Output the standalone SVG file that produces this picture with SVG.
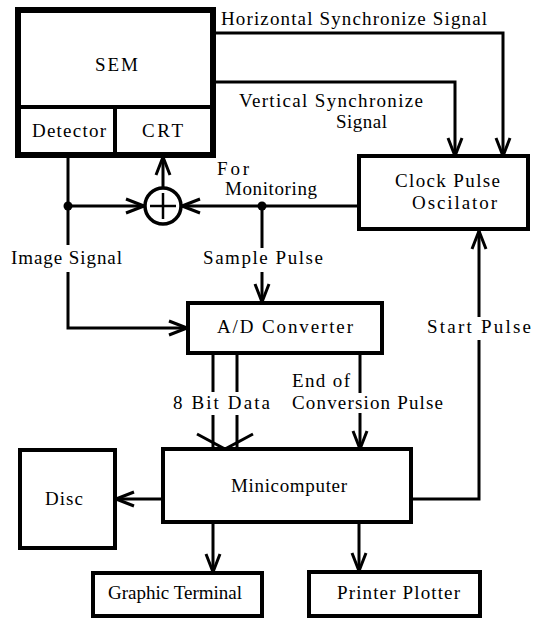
<svg xmlns="http://www.w3.org/2000/svg" width="541" height="620" viewBox="0 0 541 620">
<defs>
<style>
.box{fill:#fff;stroke:#000;stroke-width:4}
.ln{fill:none;stroke:#000;stroke-width:3;stroke-linejoin:miter}
.arr{marker-end:url(#ah)}
</style>
<marker id="ah" markerUnits="userSpaceOnUse" viewBox="0 0 24 20" markerWidth="24" markerHeight="20" refX="21" refY="10" orient="auto">
<path d="M3,3 L21,10 L3,17" fill="none" stroke="#000" stroke-width="3"/>
</marker>
</defs>
<rect width="541" height="620" fill="#fff"/>
<g font-family="Liberation Serif, DejaVu Serif, serif" font-size="19" fill="#000">
<g id="connectors">
<polyline class="ln arr" points="213,33 503,33 503,156"/>
<polyline class="ln arr" points="213,82 455,82 455,156"/>
<line class="ln arr" x1="163" y1="188" x2="163" y2="157"/>
<line class="ln" x1="68" y1="155" x2="68" y2="245"/>
<polyline class="ln arr" points="68,272 68,328 187,328"/>
<line class="ln arr" x1="68" y1="206" x2="144" y2="206"/>
<line class="ln arr" x1="358" y1="206" x2="182" y2="206"/>
<circle cx="68" cy="206" r="4.5" fill="#000"/>
<circle cx="262" cy="206" r="4.5" fill="#000"/>
<line class="ln" x1="262" y1="206" x2="262" y2="248"/>
<line class="ln arr" x1="262" y1="272" x2="262" y2="302"/>
<line class="ln" x1="213" y1="353" x2="213" y2="392"/>
<line class="ln" x1="237" y1="353" x2="237" y2="392"/>
<line class="ln" x1="213" y1="415" x2="213" y2="449"/>
<line class="ln" x1="237" y1="415" x2="237" y2="449"/>
<polyline class="ln" points="197,434 225,449 253,434"/>
<line class="ln" x1="360" y1="353" x2="360" y2="393"/>
<line class="ln arr" x1="360" y1="413" x2="360" y2="449"/>
<polyline class="ln" points="410,499 479,499 479,340"/>
<line class="ln arr" x1="479" y1="317" x2="479" y2="231"/>
<line class="ln arr" x1="163" y1="499" x2="116" y2="499"/>
<line class="ln arr" x1="213" y1="522" x2="213" y2="572"/>
<line class="ln arr" x1="359" y1="522" x2="359" y2="571"/>
<text x="221" y="25" textLength="266" lengthAdjust="spacing">Horizontal Synchronize Signal</text>
<text x="239" y="107" textLength="184" lengthAdjust="spacing">Vertical Synchronize</text>
<text x="336" y="128" textLength="51" lengthAdjust="spacing">Signal</text>
<text x="217" y="175" textLength="32" lengthAdjust="spacing">For</text>
<text x="225" y="195" textLength="92" lengthAdjust="spacing">Monitoring</text>
<text x="11" y="264" textLength="111" lengthAdjust="spacing">Image Signal</text>
<text x="203" y="264" textLength="120" lengthAdjust="spacing">Sample Pulse</text>
<text x="427" y="333" textLength="104" lengthAdjust="spacing">Start Pulse</text>
<text x="173" y="409" textLength="97" lengthAdjust="spacing">8 Bit Data</text>
<text x="292" y="387" textLength="58" lengthAdjust="spacing">End of</text>
<text x="292" y="409" textLength="151" lengthAdjust="spacing">Conversion Pulse</text>
</g>

<g id="sem">
<rect x="18" y="10" width="195" height="145" fill="#fff" stroke="#000" stroke-width="6"/>
<line x1="18" y1="107" x2="213" y2="107" stroke="#000" stroke-width="4"/>
<line x1="115" y1="107" x2="115" y2="155" stroke="#000" stroke-width="4"/>
<text x="95" y="71" textLength="43" lengthAdjust="spacing">SEM</text>
</g>
<g id="detector">
<text x="32" y="137" textLength="74" lengthAdjust="spacing">Detector</text>
</g>
<g id="crt">
<text x="142" y="137" textLength="41" lengthAdjust="spacing">CRT</text>
</g>
<g id="sum">
<circle cx="163" cy="206" r="18" fill="#fff" stroke="#000" stroke-width="3.5"/>
<line x1="150" y1="206" x2="176" y2="206" stroke="#000" stroke-width="2.5"/>
<line x1="163" y1="193" x2="163" y2="219" stroke="#000" stroke-width="2.5"/>
</g>
<g id="clock">
<rect class="box" x="359" y="156" width="169" height="73"/>
<text x="395" y="187" textLength="105" lengthAdjust="spacing">Clock Pulse</text>
<text x="412" y="209" textLength="85" lengthAdjust="spacing">Oscilator</text>
</g>
<g id="adc">
<rect class="box" x="188" y="303" width="194" height="50"/>
<text x="217" y="333" textLength="136" lengthAdjust="spacing">A/D Converter</text>
</g>
<g id="minicomputer">
<rect class="box" x="163" y="449" width="248" height="73"/>
<text x="231" y="492" textLength="116" lengthAdjust="spacing">Minicomputer</text>
</g>
<g id="disc">
<rect class="box" x="20" y="450" width="95" height="98"/>
<text x="45" y="505" textLength="38" lengthAdjust="spacing">Disc</text>
</g>
<g id="graphic">
<rect class="box" x="93" y="573" width="169" height="43"/>
<text x="108" y="599" textLength="134" lengthAdjust="spacing">Graphic Terminal</text>
</g>
<g id="printer">
<rect class="box" x="309" y="572" width="171" height="44"/>
<text x="337" y="599" textLength="123" lengthAdjust="spacing">Printer Plotter</text>
</g>
</g>
</svg>
